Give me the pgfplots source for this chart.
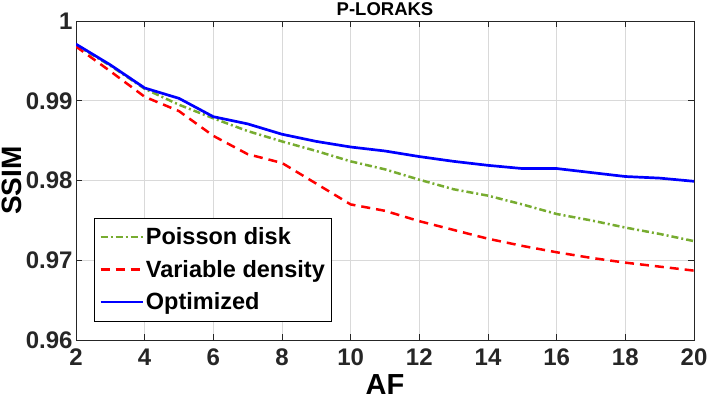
\documentclass[border=0pt]{standalone}
\usepackage{pgfplots}
\pgfplotsset{compat=1.18}
\usepackage{pgfplotstable}
\usepackage{fontspec}
\setmainfont{Liberation Sans}
\definecolor{mgreen}{HTML}{77AC30}
\definecolor{axgray}{HTML}{262626}

\pgfplotstableread{
x blue green red
2 0.9971 0.9970 0.9968
3 0.9945 0.9944 0.9937
4 0.9916 0.9915 0.9905
5 0.9903 0.9895 0.9887
6 0.9880 0.9878 0.9856
7 0.9871 0.9862 0.9833
8 0.9858 0.9849 0.9822
9 0.9849 0.9837 0.9796
10 0.9842 0.9824 0.9770
11 0.9837 0.9814 0.9762
12 0.9830 0.9801 0.9749
13 0.9824 0.9789 0.9738
14 0.9819 0.9781 0.9727
15 0.9815 0.9770 0.9718
16 0.9815 0.9758 0.9710
17 0.9810 0.9750 0.9703
18 0.9805 0.9741 0.9697
19 0.9803 0.9733 0.9692
20 0.9799 0.9724 0.9687
}\ssim

\begin{document}
\begin{tikzpicture}
\useasboundingbox (0,0) rectangle (708pt,394pt);
\begin{axis}[
    at={(76pt,54pt)}, anchor=south west,
    scale only axis,
    width=618pt, height=319pt,
    xmin=2, xmax=20, ymin=0.96, ymax=1,
    xtick={2,4,...,20},
    ytick={0.96,0.97,0.98,0.99,1},
    yticklabels={0.96,0.97,0.98,0.99,1},
    /pgf/number format/assume math mode=true,
    tick align=inside,
    major tick length=6pt,
    axis line style={axgray, line width=0.8pt},
    every tick/.style={axgray, line width=0.8pt},
    grid=major,
    grid style={gray!30, line width=0.6pt},
    ticklabel style={font=\fontsize{24}{24}\selectfont\bfseries, text=axgray},
    xticklabel style={yshift=-5pt},
    title={P-LORAKS},
    title style={font=\fontsize{18.5}{18.5}\selectfont\bfseries, at={(axis description cs:0.5,1)}, anchor=base, yshift=0pt},
    xlabel={AF},
    xlabel style={font=\fontsize{29}{29}\selectfont\bfseries, at={(axis description cs:0.5,0)}, anchor=base, yshift=-54pt},
    ylabel={SSIM},
    ylabel style={font=\fontsize{28}{28}\selectfont\bfseries, at={(axis description cs:0,0.5)}, anchor=center, yshift=64pt},
    legend cell align=left,
    legend image code/.code={\draw[#1] (0pt,0pt) -- (42pt,0pt);},
    legend style={
        at={(axis description cs:0.0296,0.3824)}, anchor=north west,
        draw=black,
        inner xsep=4.7pt, inner ysep=7.5pt,
        row sep=10pt,
        font=\fontsize{23.5}{23.5}\selectfont\bfseries,
        nodes={inner xsep=2pt},
    },
]
\addplot[mgreen, line width=2.5pt, dash pattern=on 7pt off 3pt on 2pt off 3pt] table[x=x, y=green] {\ssim};
\addlegendentry{Poisson disk}
\addplot[red, line width=2.5pt, dash pattern=on 9pt off 6pt] table[x=x, y=red] {\ssim};
\addlegendentry{Variable density}
\addplot[blue, line width=2.7pt] table[x=x, y=blue] {\ssim};
\addlegendentry{Optimized}
\end{axis}
\end{tikzpicture}
\end{document}
